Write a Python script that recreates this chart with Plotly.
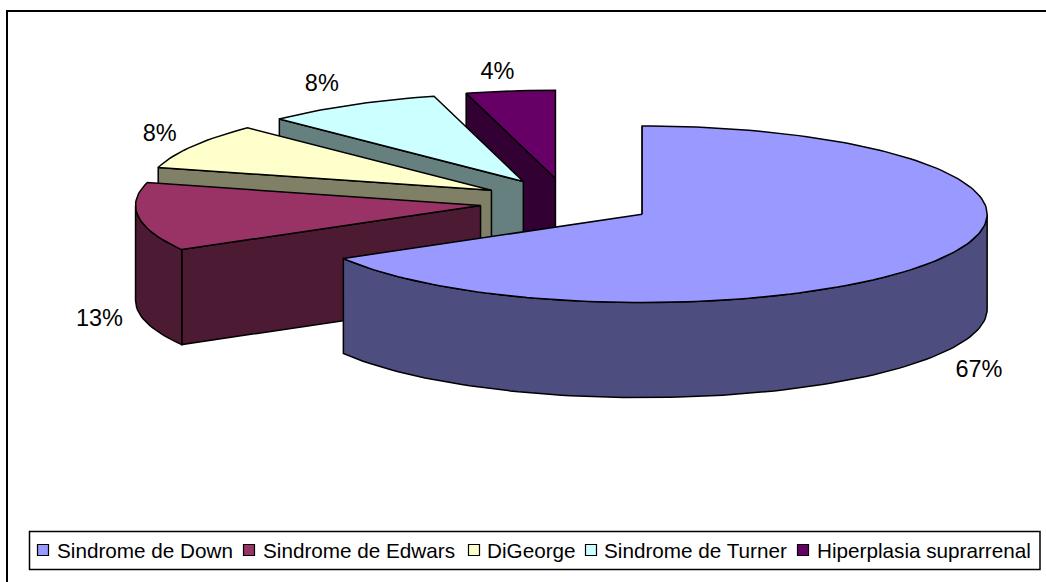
import numpy as np
import plotly.graph_objects as go

# Data
categories = ["Sindrome de Down", "Sindrome de Edwars", "DiGeorge", "Sindrome de Turner", "Hiperplasia suprarrenal"]
values = [16, 3, 2, 2, 1]
labels = ["67%", "13%", "8%", "8%", "4%"]

top_colors = ["#9999FF", "#993366", "#FFFFCC", "#CCFFFF", "#660066"]
side_colors = ["#4D4D80", "#4D1A33", "#808066", "#668080", "#330033"]

# Pie geometry in page pixels
CX, CY = 566.8, 202.3
EXPLODE_X, EXPLODE_Y = 87, 24
RX, RY = 345, 88.3
DEPTH = 95
FONT = "Liberation Sans"

# label offset from the slice's outer edge, px
label_dx = [38, -39, -33, -29, -13]
label_dy = [18, 8, -11, -20, -18]

# legend layout, px
legend_marker_x = [43, 249, 474, 591, 803]
legend_text_x = [57, 263, 486.5, 604, 817]
LEGEND_Y = 550


def ring(cx, cy, a1, a2):
    t = np.radians(np.arange(a1, a2 + 0.5, 1.5))
    return cx + RX * np.sin(t), cy - RY * np.cos(t)


def poly(xs, ys, fill, name):
    return go.Scatter(
        x=list(xs) + [xs[0]], y=list(ys) + [ys[0]], mode="lines", fill="toself", fillcolor=fill,
        line=dict(color="black", width=1.5), name=name, hoverinfo="name", showlegend=False
    )


fig = go.Figure()

# Work out slices
total = sum(values)
edges = np.cumsum([0] + values) / total * 360
slices = []
for i in range(len(values)):
    a1, a2 = edges[i], edges[i + 1]
    mid = np.radians((a1 + a2) / 2)
    slices.append((i, a1, a2, CX + EXPLODE_X * np.sin(mid), CY - EXPLODE_Y * np.cos(mid), mid))

# Back slices first so the front ones cover them
for i, a1, a2, cx, cy, mid in reversed(slices):
    name = categories[i]
    # wall on the starting radius
    ex, ey = ring(cx, cy, a1, a1)
    fig.add_trace(poly([cx, ex[0], ex[0], cx], [cy, ey[0], ey[0] + DEPTH, cy + DEPTH], side_colors[i], name))
    # outer curved wall, lower half of the ellipse only
    lo, hi = max(a1, 90), min(a2, 270)
    if lo < hi:
        ax, ay = ring(cx, cy, lo, hi)
        fig.add_trace(poly(np.r_[ax, ax[::-1]], np.r_[ay, ay[::-1] + DEPTH], side_colors[i], name))
    # top face
    tx, ty = ring(cx, cy, a1, a2)
    fig.add_trace(poly(np.r_[cx, tx], np.r_[cy, ty], top_colors[i], name))

# Percent labels
lx, ly = [], []
for i, a1, a2, cx, cy, mid in slices:
    depth = DEPTH if 90 < (a1 + a2) / 2 < 270 else 0
    lx.append(cx + RX * np.sin(mid) + label_dx[i])
    ly.append(cy - RY * np.cos(mid) + depth + label_dy[i])
fig.add_trace(go.Scatter(
    x=lx, y=ly, mode="text", text=labels, textposition="middle center",
    textfont=dict(family=FONT, size=23.5, color="black"), hoverinfo="skip", showlegend=False
))

# Legend drawn by hand, the native one can't keep entries this tight
fig.add_trace(go.Scatter(
    x=legend_marker_x, y=[LEGEND_Y] * 5, mode="markers", hovertext=categories, hoverinfo="text",
    marker=dict(symbol="square", size=11, color=top_colors, line=dict(color="black", width=1.2)),
    showlegend=False
))
for x, name in zip(legend_text_x, categories):
    fig.add_annotation(x=x, y=LEGEND_Y, text=name, showarrow=False, xanchor="left", yanchor="middle",
                       xshift=-2, font=dict(family=FONT, size=20.7, color="black"))

fig.update_layout(
    width=1046, height=582, margin=dict(l=0, r=0, t=0, b=0),
    paper_bgcolor="white", plot_bgcolor="white", showlegend=False,
    xaxis=dict(range=[0, 1046], visible=False, fixedrange=True),
    yaxis=dict(range=[582, 0], visible=False, fixedrange=True),
    shapes=[
        dict(type="line", x0=7, x1=7, y0=10, y1=582, line=dict(color="black", width=2)),
        dict(type="line", x0=6, x1=1046, y0=11, y1=11, line=dict(color="black", width=2)),
        dict(type="rect", x0=29.5, x1=1040, y0=531.5, y1=569.5, line=dict(color="black", width=1.5)),
    ],
)

# browser's default body margin would push the figure off the window
fig.write_html("out.html", config={"displayModeBar": False}, post_script="document.body.style.margin='0';")
